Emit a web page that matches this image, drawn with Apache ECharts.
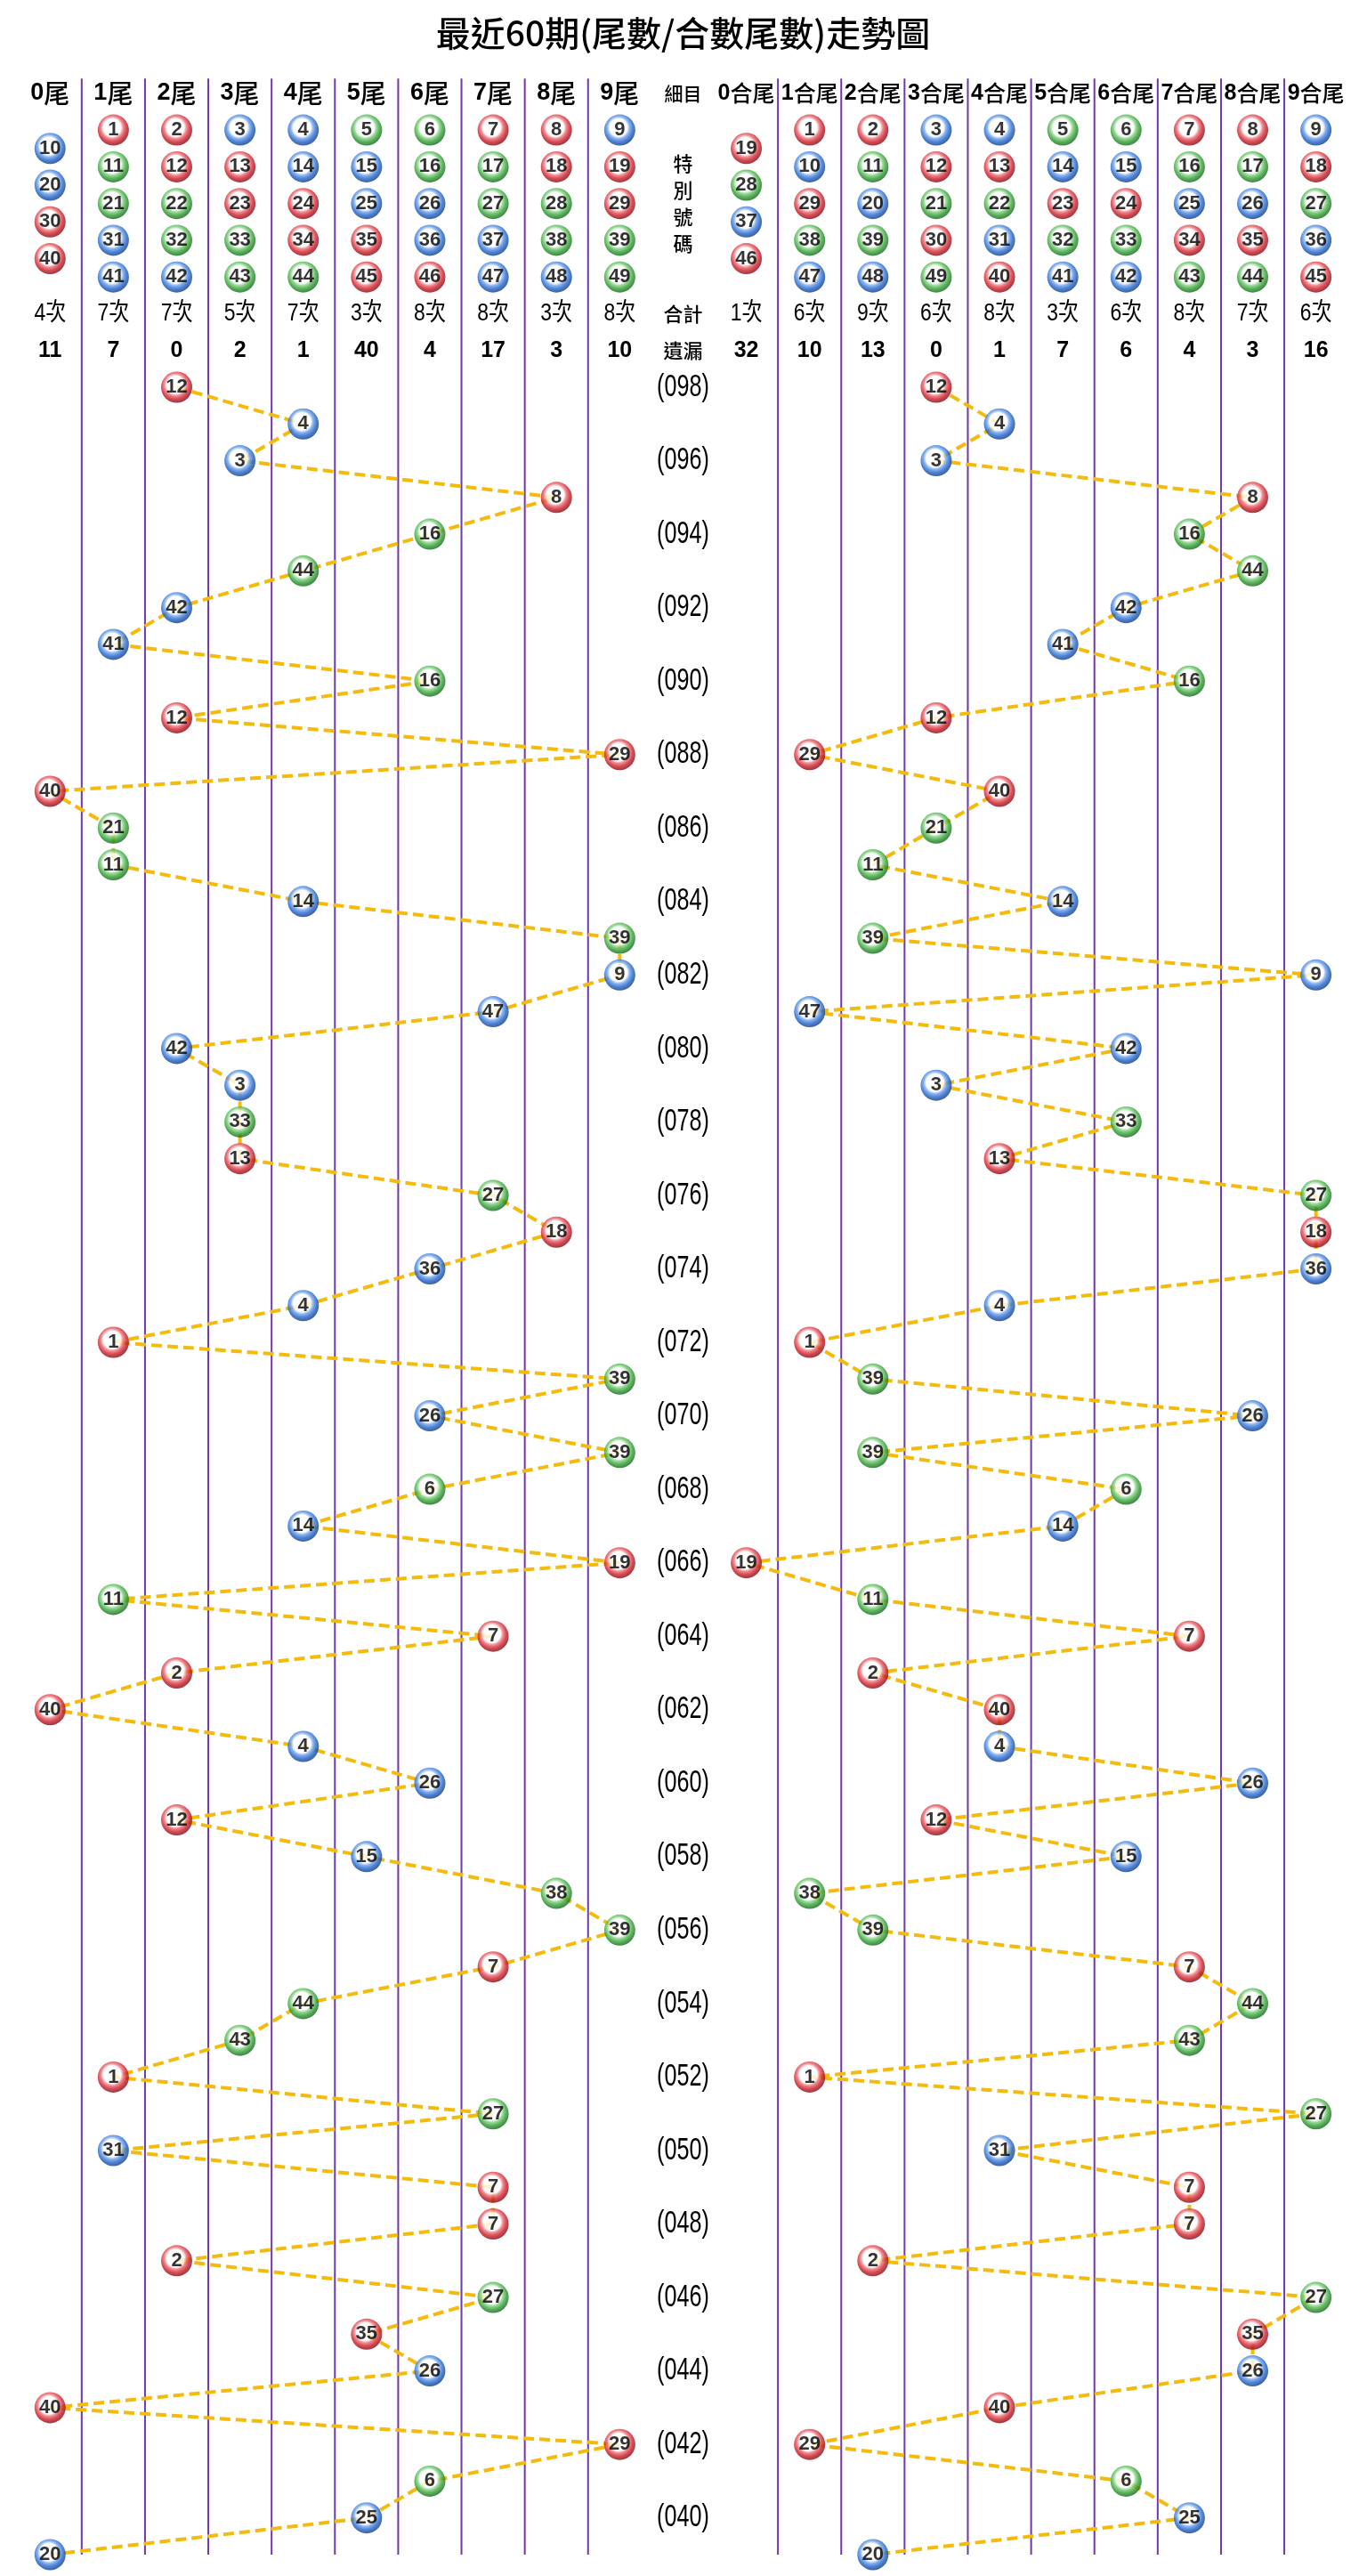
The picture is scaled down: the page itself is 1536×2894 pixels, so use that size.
<!DOCTYPE html>
<html><head><meta charset="utf-8">
<script src="https://cdn.jsdelivr.net/npm/echarts@6/dist/echarts.min.js"></script>
<style>html,body{margin:0;padding:0;background:#fff}#c{width:1536px;height:2894px}</style>
</head><body><div id="c"></div>
<script>
// ---------------- DATA ----------------
const chartTitle = '最近60期(尾數/合數尾數)走勢圖';
const tailHeaders = ['0尾','1尾','2尾','3尾','4尾','5尾','6尾','7尾','8尾','9尾'];
const sumHeaders = ['0合尾','1合尾','2合尾','3合尾','4合尾','5合尾','6合尾','7合尾','8合尾','9合尾'];
const detailLabel = '細目';
const specialLabel = ['特','別','號','碼'];
const totalLabel = '合計';
const missLabel = '遺漏';
const periods = [98,97,96,95,94,93,92,91,90,89,88,87,86,85,84,83,82,81,80,79,
                 78,77,76,75,74,73,72,71,70,69,68,67,66,65,64,63,62,61,60,59,
                 58,57,56,55,54,53,52,51,50,49,48,47,46,45,44,43,42,41,40,39];
const draws = [12,4,3,8,16,44,42,41,16,12,
               29,40,21,11,14,39,9,47,42,3,
               33,13,27,18,36,4,1,39,26,39,
               6,14,19,11,7,2,40,4,26,12,
               15,38,39,7,44,43,1,27,31,7,
               7,2,27,35,26,40,29,6,25,20];
const tailGroups = [[10,20,30,40],[1,11,21,31,41],[2,12,22,32,42],[3,13,23,33,43],[4,14,24,34,44],
                    [5,15,25,35,45],[6,16,26,36,46],[7,17,27,37,47],[8,18,28,38,48],[9,19,29,39,49]];
const sumGroups = [[19,28,37,46],[1,10,29,38,47],[2,11,20,39,48],[3,12,21,30,49],[4,13,22,31,40],
                   [5,14,23,32,41],[6,15,24,33,42],[7,16,25,34,43],[8,17,26,35,44],[9,18,27,36,45]];
const tailCounts = ['4次','7次','7次','5次','7次','3次','8次','8次','3次','8次'];
const tailMiss = ['11','7','0','2','1','40','4','17','3','10'];
const sumCounts = ['1次','6次','9次','6次','8次','3次','6次','8次','7次','6次'];
const sumMiss = ['32','10','13','0','1','7','6','4','3','16'];
const redNums = [1,2,7,8,12,13,18,19,23,24,29,30,34,35,40,45,46];
const blueNums = [3,4,9,10,14,15,20,25,26,31,36,37,41,42,47,48];

// ---------------- LAYOUT / STYLE ----------------
const L = {mid:10, right:11, yTitle:107.65, yHead:106, yBall5:105, yBall4:104.5,
           ySpecial:[104.1,103.37,102.63,101.9], yCount:100, yMiss:99, lineTop:106.4, lineBottom:39.0};
const CJK = "'Noto Sans CJK TC','Noto Sans CJK SC',sans-serif";
const LAT = "'Liberation Sans',Arial,sans-serif";
const LATCJK = "'Liberation Sans','Noto Sans CJK TC',sans-serif";
const PALETTE = {
  red:['#ec6f76','#cf1f2b','#8e0b14'],
  blue:['#6fa2ec','#2366cc','#123f90'],
  green:['#7fcf7f','#32a032','#176e1e']
};

function tailCol(n){ return n % 10; }
function sumCol(n){ return (Math.floor(n/10) + n % 10) % 10; }
function ballGrad(n){
  const c = redNums.includes(n) ? PALETTE.red : blueNums.includes(n) ? PALETTE.blue : PALETTE.green;
  return {type:'radial', x:0.46, y:0.42, r:0.56, colorStops:[
    {offset:0,color:'#ffffff'},{offset:0.5,color:'#ffffff'},{offset:0.64,color:c[0]},
    {offset:0.82,color:c[1]},{offset:1,color:c[2]}]};
}
function ball(x,y,n){ return {value:[x,y,n], itemStyle:{color:ballGrad(n)}}; }

const balls = [];
tailGroups.forEach((g,j)=>{ const s = g.length===5?L.yBall5:L.yBall4; g.forEach((n,k)=>balls.push(ball(j,s-k,n))); });
sumGroups.forEach((g,j)=>{ const s = g.length===5?L.yBall5:L.yBall4; g.forEach((n,k)=>balls.push(ball(L.right+j,s-k,n))); });
draws.forEach((n,i)=>{ balls.push(ball(tailCol(n),periods[i],n)); balls.push(ball(L.right+sumCol(n),periods[i],n)); });

const leftPath = draws.map((n,i)=>[tailCol(n), periods[i]]);
const rightPath = draws.map((n,i)=>[L.right+sumCol(n), periods[i]]);

const sepX = [];
for (let i=0;i<9;i++) sepX.push(i+0.5);
for (let i=0;i<9;i++) sepX.push(L.right+i+0.5);

const texts = [];
function addText(x,y,text,opt){ texts.push(Object.assign({x,y,text},opt)); }
addText(L.mid, L.yTitle, chartTitle, {font:"500 39px "+CJK});
function headRich(h, dSize, cSize){
  const d = h.match(/^\d+/)[0], c = h.slice(d.length);
  return {text:'{d|'+d+'}{c|'+c+'}', rich:{d:{fontSize:dSize,fontWeight:'bold',fontFamily:LAT,fill:'#000'},c:{fontSize:cSize,fontFamily:CJK,fontWeight:500,fill:'#000'}}};
}
tailHeaders.forEach((h,j)=>addText(j, L.yHead, null, headRich(h,27,29)));
sumHeaders.forEach((h,j)=>addText(L.right+j, L.yHead, null, headRich(h,25,25)));
addText(L.mid, L.yHead, detailLabel, {font:"500 21px "+CJK});
specialLabel.forEach((c,k)=>addText(L.mid, L.ySpecial[k], c, {font:"500 22px "+CJK}));
tailCounts.forEach((t,j)=>addText(j, L.yCount, t, {font:"28px "+LATCJK, sx:0.82}));
sumCounts.forEach((t,j)=>addText(L.right+j, L.yCount, t, {font:"28px "+LATCJK, sx:0.82}));
addText(L.mid, L.yCount, totalLabel, {font:"500 22px "+CJK});
tailMiss.forEach((t,j)=>addText(j, L.yMiss, t, {font:"bold 25px "+LAT}));
sumMiss.forEach((t,j)=>addText(L.right+j, L.yMiss, t, {font:"bold 25px "+LAT}));
addText(L.mid, L.yMiss, missLabel, {font:"500 22px "+CJK});
periods.filter(p=>p%2===0).forEach(p=>addText(L.mid, p, '('+String(p).padStart(3,'0')+')', {font:"35px "+LAT, sx:0.72}));

// ---------------- CHART ----------------
const chart = echarts.init(document.getElementById('c'));
const dashStyle = {color:'#F4BA0C', width:4, type:[12,6]};
chart.setOption({
  animation:false,
  backgroundColor:'#ffffff',
  grid:{left:20.7, right:21.8, top:1.67, bottom:3.4, containLabel:false},
  xAxis:{type:'value', min:-0.5, max:20.5, show:false},
  yAxis:{type:'value', min:38.5, max:108.5, show:false},
  series:[
    {type:'custom', z:1, silent:true, data:sepX.map(x=>[x, L.lineTop]),
     renderItem:(params, api)=>{
       const x = api.value(0);
       const p1 = api.coord([x, L.lineTop]), p2 = api.coord([x, L.lineBottom]);
       return {type:'line', shape:{x1:p1[0],y1:p1[1],x2:p2[0],y2:p2[1]}, style:{stroke:'#7038a8', lineWidth:2}};
     }},
    {type:'line', z:2, silent:true, data:leftPath, symbol:'none', lineStyle:dashStyle},
    {type:'line', z:2, silent:true, data:rightPath, symbol:'none', lineStyle:dashStyle},
    {type:'scatter', z:4, silent:true, data:balls, symbol:'circle', symbolSize:35,
     label:{show:true, position:'inside', formatter:p=>String(p.value[2]), color:'#000',
            fontFamily:LAT, fontWeight:'bold', fontSize:22}},
    {type:'custom', z:5, silent:true, data:texts.map((t,i)=>[t.x,t.y,i]),
     renderItem:(params, api)=>{
       const t = texts[params.dataIndex];
       const p = api.coord([api.value(0), api.value(1)]);
       const style = {fill:'#000', align:'center', verticalAlign:'middle'};
       if (t.rich) { style.text = t.text; style.rich = t.rich; }
       else { style.text = t.text; style.font = t.font; }
       return {type:'text', x:p[0], y:p[1], scaleX:t.sx||1, style:style};
     }}
  ]
});
</script>
</body></html>
